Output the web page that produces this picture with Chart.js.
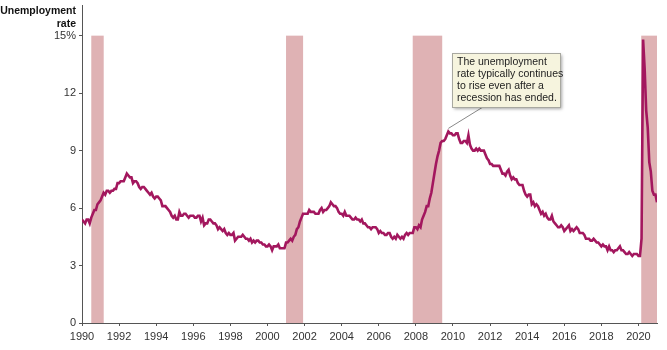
<!DOCTYPE html>
<html>
<head>
<meta charset="utf-8">
<script src="https://cdn.jsdelivr.net/npm/chart.js@4.4.0/dist/chart.umd.min.js"></script>
<style>
  html, body { margin: 0; padding: 0; background: #fff; }
  #wrap { width: 667px; height: 350px; }
</style>
</head>
<body>
<div id="wrap"><canvas id="rateChart"></canvas></div>
<script>
// monthly unemployment rate (%), one row per year, Jan..Dec
const years = [1990, 1991, 1992, 1993, 1994, 1995, 1996, 1997, 1998, 1999, 2000,
  2001, 2002, 2003, 2004, 2005, 2006, 2007, 2008, 2009, 2010,
  2011, 2012, 2013, 2014, 2015, 2016, 2017, 2018, 2019, 2020, 2021];
const monthlyRate = [
  [5.4, 5.3, 5.2, 5.4, 5.4, 5.2, 5.5, 5.7, 5.9, 5.9, 6.2, 6.3],
  [6.4, 6.6, 6.8, 6.7, 6.9, 6.9, 6.8, 6.9, 6.9, 7.0, 7.0, 7.3],
  [7.3, 7.4, 7.4, 7.4, 7.6, 7.8, 7.7, 7.6, 7.6, 7.3, 7.4, 7.4],
  [7.3, 7.1, 7.0, 7.1, 7.1, 7.0, 6.9, 6.8, 6.7, 6.8, 6.6, 6.5],
  [6.6, 6.6, 6.5, 6.4, 6.1, 6.1, 6.1, 6.0, 5.9, 5.8, 5.6, 5.5],
  [5.6, 5.4, 5.4, 5.8, 5.6, 5.6, 5.7, 5.7, 5.6, 5.5, 5.6, 5.6],
  [5.6, 5.5, 5.5, 5.6, 5.6, 5.3, 5.5, 5.1, 5.2, 5.2, 5.4, 5.4],
  [5.3, 5.2, 5.2, 5.1, 4.9, 5.0, 4.9, 4.8, 4.9, 4.7, 4.6, 4.7],
  [4.6, 4.6, 4.7, 4.3, 4.4, 4.5, 4.5, 4.5, 4.6, 4.5, 4.4, 4.4],
  [4.3, 4.4, 4.2, 4.3, 4.2, 4.3, 4.3, 4.2, 4.2, 4.1, 4.1, 4.0],
  [4.0, 4.1, 4.0, 3.8, 4.0, 4.0, 4.0, 4.1, 3.9, 3.9, 3.9, 3.9],
  [4.2, 4.2, 4.3, 4.4, 4.3, 4.5, 4.6, 4.9, 5.0, 5.3, 5.5, 5.7],
  [5.7, 5.7, 5.7, 5.9, 5.8, 5.8, 5.8, 5.7, 5.7, 5.7, 5.9, 6.0],
  [5.8, 5.9, 5.9, 6.0, 6.1, 6.3, 6.2, 6.1, 6.1, 6.0, 5.8, 5.7],
  [5.7, 5.6, 5.8, 5.6, 5.6, 5.6, 5.5, 5.4, 5.4, 5.5, 5.4, 5.4],
  [5.3, 5.4, 5.2, 5.2, 5.1, 5.0, 5.0, 4.9, 5.0, 5.0, 5.0, 4.9],
  [4.7, 4.8, 4.7, 4.7, 4.6, 4.6, 4.7, 4.7, 4.5, 4.4, 4.5, 4.4],
  [4.6, 4.5, 4.4, 4.5, 4.4, 4.6, 4.7, 4.6, 4.7, 4.7, 4.7, 5.0],
  [5.0, 4.9, 5.1, 5.0, 5.4, 5.6, 5.8, 6.1, 6.1, 6.5, 6.8, 7.3],
  [7.8, 8.3, 8.7, 9.0, 9.4, 9.5, 9.5, 9.6, 9.8, 10.0, 9.9, 9.9],
  [9.8, 9.8, 9.9, 9.9, 9.6, 9.4, 9.4, 9.5, 9.5, 9.4, 9.8, 9.3],
  [9.1, 9.0, 9.0, 9.1, 9.0, 9.1, 9.0, 9.0, 9.0, 8.8, 8.6, 8.5],
  [8.3, 8.3, 8.2, 8.2, 8.2, 8.2, 8.2, 8.0, 7.8, 7.8, 7.7, 7.9],
  [8.0, 7.7, 7.5, 7.6, 7.5, 7.5, 7.3, 7.2, 7.2, 7.2, 6.9, 6.7],
  [6.6, 6.7, 6.7, 6.2, 6.3, 6.1, 6.2, 6.1, 5.9, 5.7, 5.8, 5.6],
  [5.7, 5.5, 5.4, 5.4, 5.6, 5.3, 5.2, 5.1, 5.0, 5.0, 5.1, 5.0],
  [4.8, 4.9, 5.0, 5.1, 4.8, 4.9, 4.8, 4.9, 5.0, 4.9, 4.7, 4.7],
  [4.7, 4.6, 4.4, 4.4, 4.4, 4.3, 4.3, 4.4, 4.3, 4.2, 4.2, 4.1],
  [4.0, 4.1, 4.0, 4.0, 3.8, 4.0, 3.8, 3.8, 3.7, 3.8, 3.8, 3.9],
  [4.0, 3.8, 3.8, 3.7, 3.6, 3.6, 3.7, 3.6, 3.5, 3.6, 3.6, 3.6],
  [3.5, 3.5, 4.4, 14.8, 13.3, 11.1, 10.2, 8.4, 7.9, 6.9, 6.7, 6.7],
  [6.3]
];

// recessions (decimal years)
const recessionStart = [1990.5, 2001.0, 2007.83, 2020.15];
const recessionEnd = [1991.17, 2001.92, 2009.42, 2021.0];

const xTicks = [1990, 1992, 1994, 1996, 1998, 2000, 2002, 2004, 2006, 2008, 2010,
  2012, 2014, 2016, 2018, 2020];
const yTicks = [0, 3, 6, 9, 12, 15];

const noteLines = ['The unemployment', 'rate typically continues', 'to rise even after a', 'recession has ended.'];

const FONT = '"Liberation Sans", Arial, Helvetica, sans-serif';

// build the points
var points = [];
years.forEach(function (yr, i) {
    monthlyRate[i].forEach(function (v, m) {
        points.push({ x: yr + m / 12, y: v });
    });
});

// shaded recession bars behind the line
const recessionPlugin = {
    id: 'recessions',
    beforeDatasetsDraw(chart) {
        const ctx = chart.ctx;
        const xs = chart.scales.x, ys = chart.scales.y;
        ctx.save();
        ctx.fillStyle = '#dfb2b4';
        for (let i = 0; i < recessionStart.length; i++) {
            const x1 = xs.getPixelForValue(recessionStart[i]);
            const x2 = xs.getPixelForValue(recessionEnd[i]);
            const yTop = ys.getPixelForValue(15);
            const yBot = ys.getPixelForValue(0);
            ctx.fillRect(x1, yTop, x2 - x1, yBot - yTop);
        }
        ctx.restore();
    }
};

// axis title and callout box
const notesPlugin = {
    id: 'notes',
    afterDraw(chart) {
        const ctx = chart.ctx;
        const xs = chart.scales.x, ys = chart.scales.y;
        ctx.save();
        ctx.fillStyle = '#111';
        ctx.font = 'bold 10.5px ' + FONT;
        ctx.textAlign = 'right';
        ctx.textBaseline = 'middle';
        ctx.fillText('Unemployment', 76, 11);
        ctx.fillText('rate', 76, 24);

        // pointer line
        const px = xs.getPixelForValue(2009.75);
        const py = ys.getPixelForValue(10.0) - 3;
        ctx.strokeStyle = '#888';
        ctx.lineWidth = 1;
        ctx.beginPath();
        ctx.moveTo(px, py);
        ctx.lineTo(483, 107);
        ctx.stroke();

        // box
        const bx = 452, by = 53, bw = 108, bh = 54;
        ctx.shadowColor = 'rgba(0,0,0,0.35)';
        ctx.shadowBlur = 3;
        ctx.shadowOffsetX = 2;
        ctx.shadowOffsetY = 2;
        ctx.fillStyle = '#f6f4de';
        ctx.fillRect(bx, by, bw, bh);
        ctx.shadowColor = 'transparent';
        ctx.strokeStyle = '#a8a8a0';
        ctx.strokeRect(bx + 0.5, by + 0.5, bw, bh);

        ctx.fillStyle = '#222';
        ctx.font = '10.5px ' + FONT;
        ctx.textAlign = 'left';
        noteLines.forEach(function (t, i) {
            ctx.fillText(t, bx + 5, by + 9 + i * 12);
        });
        ctx.restore();
    }
};

var ctx = document.getElementById('rateChart').getContext('2d');
var myChart = new Chart(ctx, {
    type: 'line',
    data: {
        datasets: [{
            label: 'Unemployment rate',
            data: points,
            borderColor: '#a3175e',
            borderWidth: 2.6,
            pointRadius: 0,
            tension: 0,
            fill: false
        }]
    },
    options: {
        responsive: true,
        maintainAspectRatio: false,
        animation: false,
        layout: { padding: { top: 5, right: 10, left: 0, bottom: 0 } },
        plugins: {
            legend: { display: false },
            tooltip: { enabled: false }
        },
        scales: {
            x: {
                type: 'linear',
                min: 1990,
                max: 2021,
                afterBuildTicks: function (scale) {
                    scale.ticks = xTicks.map(v => ({ value: v }));
                },
                afterFit: function (scale) { scale.height = 27; },
                grid: { drawOnChartArea: false, tickLength: 3, color: '#555' },
                border: { color: '#555', width: 1 },
                ticks: {
                    color: '#333',
                    padding: 4,
                    maxRotation: 0,
                    autoSkip: false,
                    font: { family: FONT, size: 11 },
                    callback: function (v) { return String(v); }
                }
            },
            y: {
                min: 0,
                max: 16.6,
                afterBuildTicks: function (scale) {
                    scale.ticks = yTicks.map(v => ({ value: v }));
                },
                afterFit: function (scale) {
                    scale.width = 82;
                    scale.paddingTop = 0;
                },
                grid: { drawOnChartArea: false, tickLength: 3, color: '#555' },
                border: { color: '#555', width: 1 },
                ticks: {
                    color: '#333',
                    padding: 3,
                    font: { family: FONT, size: 11 },
                    callback: function (v) { return v === 15 ? '15%' : String(v); }
                }
            }
        }
    },
    plugins: [recessionPlugin, notesPlugin]
});
</script>
</body>
</html>
